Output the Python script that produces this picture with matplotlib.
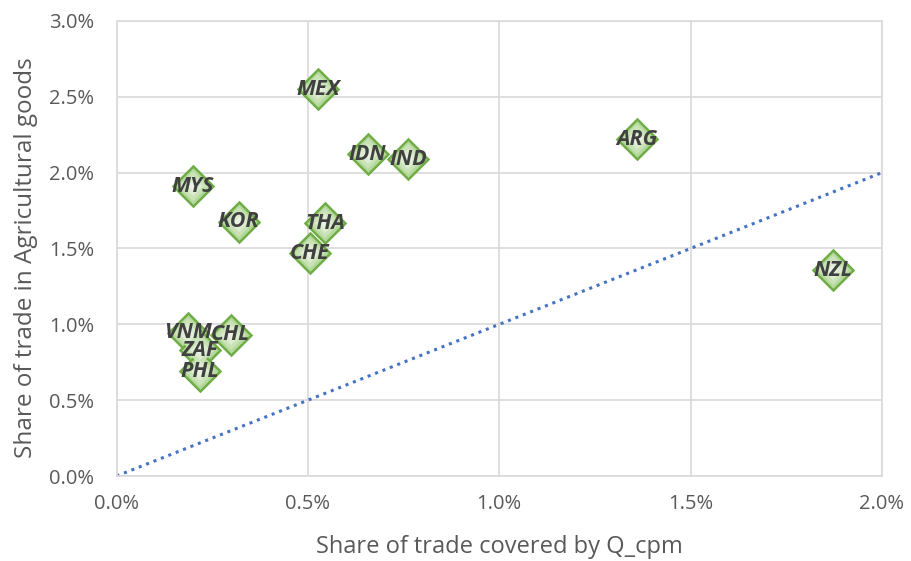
import numpy as np
import matplotlib.pyplot as plt
from matplotlib.ticker import FuncFormatter

plt.rcParams['font.family'] = ['Open Sans', 'DejaVu Sans']

countries = ["MEX", "IDN", "IND", "ARG", "MYS", "KOR", "THA", "CHE",
             "NZL", "VNM", "CHL", "ZAF", "PHL"]
q_cpm_share = [0.526, 0.656, 0.761, 1.36, 0.199, 0.319, 0.544, 0.505,
               1.872, 0.186, 0.298, 0.218, 0.217]
agri_share = [2.55, 2.12, 2.09, 2.22, 1.91, 1.675, 1.668, 1.47,
              1.358, 0.943, 0.93, 0.83, 0.69]

diag_x = [0.0, 2.0]
diag_y = [0.0, 2.0]

fig = plt.figure(figsize=(9.11, 5.61), dpi=100)
ax = fig.add_axes([0.128, 0.1515, 0.840, 0.8111])

ax.plot(diag_x, diag_y, color="#4472C4", linestyle=(0, (1, 1.6)),
        linewidth=2.2, zorder=2)

# fake gradient fill: stacked diamonds, lighter toward the centre
x = np.array(q_cpm_share)
y = np.array(agri_share)
ax.plot(x, y, "D", markersize=20, markerfacecolor="#b5d99c",
        markeredgecolor="#70AD47", markeredgewidth=1.8, zorder=3)
for ms, c in [(15, "#c9e3b6"), (10, "#dcecd0"), (5, "#eaf3e3")]:
    ax.plot(x, y, "D", markersize=ms, markerfacecolor=c,
            markeredgewidth=0, zorder=3)

for name, xi, yi in zip(countries, q_cpm_share, agri_share):
    ax.text(xi, yi, name, ha="center", va="center", fontsize=15.5,
            fontweight="bold", fontstyle="italic", color="#404040",
            zorder=4)

ax.set_xlim(0, 2.0)
ax.set_ylim(0, 3.0)
ax.set_xticks(np.arange(0, 2.01, 0.5))
ax.set_yticks(np.arange(0, 3.01, 0.5))
ax.xaxis.set_major_formatter(FuncFormatter(lambda v, p: f"{v:.1f}%"))
ax.yaxis.set_major_formatter(FuncFormatter(lambda v, p: f"{v:.1f}%"))
ax.tick_params(length=0, labelsize=14.5, labelcolor="#595959")
ax.tick_params(axis="x", pad=13)
ax.tick_params(axis="y", pad=16)
ax.grid(True, color="#D9D9D9", linewidth=1.2)
ax.set_axisbelow(True)
for s in ax.spines.values():
    s.set_color("#D9D9D9")
    s.set_linewidth(1.2)

ax.set_xlabel("Share of trade covered by Q_cpm", fontsize=17,
              color="#595959", labelpad=15)
ax.set_ylabel("Share of trade in Agricultural goods", fontsize=17.5,
              color="#595959")
ax.yaxis.set_label_coords(-0.103, 0.48)

plt.savefig("out.png", dpi=100)
